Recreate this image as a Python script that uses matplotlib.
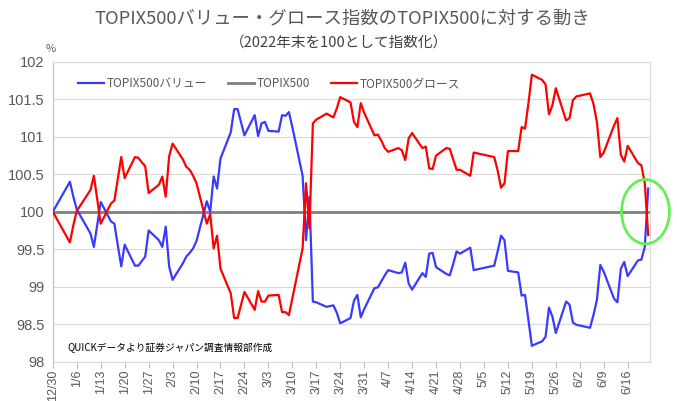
import matplotlib
matplotlib.use("Agg")
import matplotlib.pyplot as plt
import matplotlib.dates as mdates
from matplotlib.patches import Ellipse
import pandas as pd
import numpy as np

plt.rcParams['font.family'] = ['Noto Sans CJK JP', 'DejaVu Sans']

dates = [
    "2022-12-30",
    "2023-01-04", "2023-01-05", "2023-01-06", "2023-01-10", "2023-01-11", "2023-01-12", "2023-01-13",
    "2023-01-16", "2023-01-17", "2023-01-18", "2023-01-19", "2023-01-20",
    "2023-01-23", "2023-01-24", "2023-01-25", "2023-01-26", "2023-01-27",
    "2023-01-30", "2023-01-31", "2023-02-01", "2023-02-02", "2023-02-03",
    "2023-02-06", "2023-02-07", "2023-02-08", "2023-02-09", "2023-02-10",
    "2023-02-13", "2023-02-14", "2023-02-15", "2023-02-16", "2023-02-17",
    "2023-02-20", "2023-02-21", "2023-02-22", "2023-02-24",
    "2023-02-27", "2023-02-28", "2023-03-01", "2023-03-02", "2023-03-03",
    "2023-03-06", "2023-03-07", "2023-03-08", "2023-03-09", "2023-03-10",
    "2023-03-13", "2023-03-14", "2023-03-15", "2023-03-16", "2023-03-17",
    "2023-03-20", "2023-03-22", "2023-03-23", "2023-03-24",
    "2023-03-27", "2023-03-28", "2023-03-29", "2023-03-30", "2023-03-31",
    "2023-04-03", "2023-04-04", "2023-04-05", "2023-04-06", "2023-04-07",
    "2023-04-10", "2023-04-11", "2023-04-12", "2023-04-13", "2023-04-14",
    "2023-04-17", "2023-04-18", "2023-04-19", "2023-04-20", "2023-04-21",
    "2023-04-24", "2023-04-25", "2023-04-26", "2023-04-27", "2023-04-28",
    "2023-05-01", "2023-05-02",
    "2023-05-08", "2023-05-09", "2023-05-10", "2023-05-11", "2023-05-12",
    "2023-05-15", "2023-05-16", "2023-05-17", "2023-05-18", "2023-05-19",
    "2023-05-22", "2023-05-23", "2023-05-24", "2023-05-25", "2023-05-26",
    "2023-05-29", "2023-05-30", "2023-05-31", "2023-06-01", "2023-06-02",
    "2023-06-05", "2023-06-06", "2023-06-07", "2023-06-08", "2023-06-09",
    "2023-06-12", "2023-06-13", "2023-06-14", "2023-06-15", "2023-06-16",
    "2023-06-19", "2023-06-20", "2023-06-21", "2023-06-22",
]

value = [
    100.00,
    100.40, 100.20, 100.03, 99.71, 99.53, 99.83, 100.13,
    99.87, 99.84, 99.55, 99.27, 99.56,
    99.28, 99.28, 99.34, 99.40, 99.75,
    99.62, 99.53, 99.80, 99.27, 99.09,
    99.31, 99.40, 99.45, 99.51, 99.61,
    100.14, 100.00, 100.47, 100.31, 100.71,
    101.06, 101.37, 101.37, 101.02,
    101.29, 101.01, 101.18, 101.20, 101.08,
    101.07, 101.29, 101.28, 101.33, 101.13,
    100.48, 99.62, 100.20, 98.80, 98.79,
    98.73, 98.75, 98.65, 98.51,
    98.58, 98.81, 98.89, 98.59, 98.70,
    98.98, 98.99, 99.07, 99.15, 99.22,
    99.18, 99.19, 99.32, 99.04, 98.96,
    99.18, 99.13, 99.44, 99.45, 99.26,
    99.17, 99.15, 99.30, 99.47, 99.44,
    99.52, 99.22,
    99.28, 99.47, 99.68, 99.62, 99.21,
    99.19, 98.88, 98.89, 98.55, 98.21,
    98.27, 98.33, 98.72, 98.60, 98.38,
    98.80, 98.76, 98.52, 98.49, 98.48,
    98.45, 98.62, 98.82, 99.29, 99.20,
    98.84, 98.79, 99.24, 99.33, 99.14,
    99.35, 99.36, 99.53, 100.31,
]

growth = [
    100.00,
    99.59, 99.82, 100.01, 100.29, 100.48, 100.16, 99.84,
    100.11, 100.15, 100.44, 100.73, 100.45,
    100.73, 100.72, 100.66, 100.61, 100.25,
    100.36, 100.47, 100.20, 100.74, 100.91,
    100.70, 100.60, 100.56, 100.48, 100.38,
    99.84, 99.97, 99.51, 99.68, 99.24,
    98.91, 98.58, 98.58, 98.93,
    98.69, 98.94, 98.80, 98.80, 98.88,
    98.89, 98.66, 98.66, 98.62, 98.84,
    99.51, 100.38, 99.78, 101.18, 101.23,
    101.31, 101.26, 101.38, 101.53,
    101.46, 101.20, 101.13, 101.45, 101.32,
    101.02, 101.03, 100.95, 100.85, 100.80,
    100.85, 100.82, 100.69, 100.98, 101.05,
    100.85, 100.87, 100.58, 100.57, 100.75,
    100.85, 100.84, 100.70, 100.56, 100.56,
    100.48, 100.79,
    100.73, 100.55, 100.32, 100.38, 100.81,
    100.81, 101.13, 101.11, 101.45, 101.83,
    101.76, 101.70, 101.30, 101.42, 101.65,
    101.22, 101.25, 101.49, 101.54, 101.55,
    101.58, 101.44, 101.20, 100.73, 100.79,
    101.15, 101.25, 100.76, 100.67, 100.88,
    100.65, 100.62, 100.38, 99.69,
]

topix = [100.0] * len(dates)

series_names = ["TOPIX500バリュー", "TOPIX500", "TOPIX500グロース"]
yticks = [98, 98.5, 99, 99.5, 100, 100.5, 101, 101.5, 102]

title = "TOPIX500バリュー・グロース指数のTOPIX500に対する動き"
subtitle = "（2022年末を100として指数化）"
source = "QUICKデータより証券ジャパン調査情報部作成"

x = pd.to_datetime(dates)

fig = plt.figure(figsize=(6.77, 4.01), dpi=100)
ax = fig.add_axes([0.078, 0.0985, 0.882, 0.747])

ax.plot(x, value, color="#3a3aff", lw=1.6, label=series_names[0], zorder=3)
ax.plot(x, topix, color="#7f7f7f", lw=2.0, label=series_names[1], zorder=2)
ax.plot(x, growth, color="#ff0000", lw=1.6, label=series_names[2], zorder=4)

ax.set_ylim(98, 102)
ax.set_yticks(yticks)
ax.set_yticklabels([f"{t:g}" for t in yticks], family=["Liberation Sans"])
ax.set_xlim(x[0], x[-1] + pd.Timedelta(hours=12))
ticks = pd.date_range(x[0], x[-1], freq="7D")
ax.set_xticks(ticks)
ax.set_xticklabels([f"{d.month}/{d.day}" for d in ticks], rotation=90,
                   family=["Liberation Sans"])

ax.grid(axis="y", color="#d9d9d9", lw=0.8)
ax.set_axisbelow(True)
for s in ax.spines.values():
    s.set_color("#d9d9d9")
    s.set_linewidth(0.8)
ax.spines["left"].set_color("#bfbfbf")
ax.tick_params(axis="y", length=0, labelsize=10.5, labelcolor="#595959", pad=6)
ax.tick_params(axis="x", length=4, color="#bfbfbf", labelsize=9, labelcolor="#595959", pad=2)

leg = ax.legend(loc="upper left", bbox_to_anchor=(0.025, 0.985), ncol=3, frameon=False,
                fontsize=8.5, labelcolor="#595959", handlelength=2.2, columnspacing=1.8,
                handletextpad=0.2)

# highlight ellipse around the latest point
last_num = mdates.date2num(x[-1])
ell = Ellipse((last_num - 0.8, 100.0), width=14, height=0.86, fill=False,
              edgecolor="#66ee55", lw=2.0, clip_on=False, zorder=5)
ax.add_patch(ell)

fig.text(0.505, 0.953, title, ha="center", va="center", fontsize=13.2, color="#595959")
fig.text(0.50, 0.893, subtitle, ha="center", va="center", fontsize=10.5, color="#404040")
fig.text(0.068, 0.877, "%", ha="left", va="center", fontsize=8, color="#595959")
ax.text(0.025, 0.045, source, transform=ax.transAxes, ha="left", va="center",
        fontsize=7, color="#000000")

fig.savefig("out.png", dpi=100)
